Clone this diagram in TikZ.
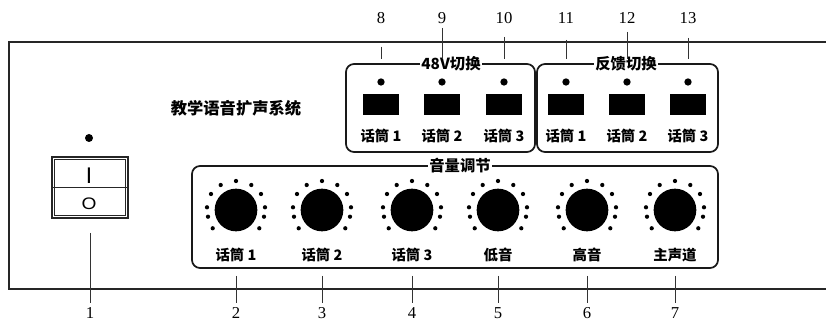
\documentclass[tikz,border=0pt]{standalone}
\usepackage{fontspec}
\setmainfont{Liberation Serif}
\newfontfamily\cjk{Noto Sans CJK SC}
\newfontfamily\swfont{Liberation Sans}
\begin{document}
\begin{tikzpicture}[x=0.75pt,y=-0.75pt,
  frame/.style={draw=black!85, line width=1.5pt},
  grp/.style={draw=black!90, line width=1.3pt, rounded corners=6pt},
  grptitle/.style={fill=white, inner xsep=1pt, inner ysep=0.5pt, font=\cjk\bfseries\fontsize{11.5}{11.5}\selectfont},
  lab/.style={font=\cjk\bfseries\fontsize{10.8}{10.8}\selectfont, inner sep=0pt},
  ttl/.style={font=\cjk\bfseries\fontsize{12.2}{12.2}\selectfont, inner sep=0pt},
  num/.style={font=\fontsize{12.5}{12.5}\selectfont, inner sep=0pt},
  lead/.style={draw=black!80, line width=0.6pt},
  knob/.style={circle, fill=black, minimum size=32pt, inner sep=0pt},
  kdot/.style={circle, fill=black, minimum size=3.2pt, inner sep=0pt},
  led/.style={circle, fill=black, minimum size=5.5pt, inner sep=0pt},
  btn/.style={fill=black, minimum width=27.5pt, minimum height=15.5pt, inner sep=0pt},
]
\useasboundingbox (0,0) rectangle (826,323);
\clip (0,0) rectangle (826,323);
\fill[white] (0,0) rectangle (826,323);

% main panel frame (right edge beyond picture)
\draw[frame] (840,42) -- (9,42) -- (9,289) -- (840,289);

% title
\node[ttl] (title) at (236,108) {教学语音扩声系统};

% power switch
\node[led, minimum size=6pt] (pled) at (89,138) {};
\node[draw=black!85, line width=1.3pt, minimum width=57pt, minimum height=45.5pt, inner sep=0pt] (sw) at (90,187.5) {};
\draw[black!85, line width=0.9pt] ([shift={(2.4pt,-2.4pt)}]sw.north west) rectangle ([shift={(-2.4pt,2.4pt)}]sw.south east);
\draw[black!85, line width=0.9pt] (sw.west) -- (sw.east);
\node[font=\swfont\fontsize{17}{17}\selectfont, inner sep=0pt] (swI) at (89,176) {I};
\node[font=\swfont\fontsize{12.5}{12.5}\selectfont, inner sep=0pt, xscale=1.15] (swO) at (89,204) {O};

% group boxes
\draw[grp] (346,64) rectangle (535,152);
\draw[grp] (537,64) rectangle (718,152);
\draw[grp] (192,166) rectangle (718,268);
\node[grptitle] (g48) at (451,64) {48V切换};
\node[grptitle] (gfb) at (626,64) {反馈切换};
\node[grptitle] (gvol) at (460,166) {音量调节};

% switches (top)
\foreach \x/\t/\n/\s in {381/话筒 1/8/17, 442/话筒 2/9/3, 504/话筒 3/10/9.75, 566/话筒 1/11/12, 627/话筒 2/12/6, 688/话筒 3/13/10.5} {
  \node[led] (l\n) at (\x,82) {};
  \node[btn] (b\n) at (\x,104.5) {};
  \node[lab] (t\n) at (\x,136) {\t};
  \node[num, anchor=south] (n\n) at (\x,24) {\n};
  \coordinate (c\n) at (\x,59);
  \draw[lead, shorten <=\s pt] (n\n) -- (c\n);
}

% knobs
\foreach \x/\t/\n in {236/话筒 1/2, 322/话筒 2/3, 412/话筒 3/4, 498/低音/5, 587/高音/6, 675/主声道/7} {
  \node[knob] (k\n) at (\x,210) {};
  \foreach \dx/\dy in {0/-29, 15.3/-25, -15.3/-25, 25/-16, -25/-16, 29/-2.7, -29/-2.7, 28/6.7, -28/6.7, 23.3/18.3, -23.3/18.3}
    \path (k\n.center) ++(\dx,\dy) node[kdot] {};
  \node[lab] (t\n) at (\x,255) {\t};
  \node[num, anchor=north] (n\n) at (\x,307.5) {\n};
  \coordinate (c\n) at (\x,276);
  \draw[lead, shorten >=3.5pt] (c\n) -- (n\n);
}

% leader for switch
\node[num, anchor=north] (n1) at (90,307.5) {1};
\coordinate (c1) at (90,233);
\draw[lead, shorten >=3.5pt] (c1) -- (n1);
\end{tikzpicture}
\end{document}
